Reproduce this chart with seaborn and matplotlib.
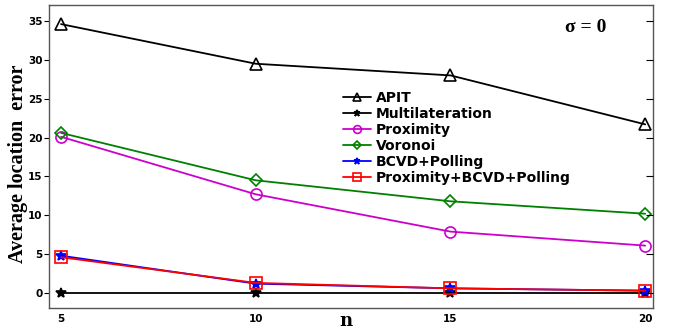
import matplotlib
matplotlib.use("Agg")
import matplotlib.pyplot as plt
import seaborn as sns
import pandas as pd

n_values = [5, 10, 15, 20]
apit = [34.6, 29.5, 28.0, 21.7]
multilateration = [0.0, 0.0, 0.0, 0.0]
proximity = [20.1, 12.7, 7.9, 6.1]
voronoi = [20.6, 14.5, 11.8, 10.2]
bcvd_polling = [4.8, 1.2, 0.6, 0.3]
prox_bcvd_polling = [4.6, 1.3, 0.6, 0.3]

series = [
    ("APIT", apit, "black", "^"),
    ("Multilateration", multilateration, "black", "*"),
    ("Proximity", proximity, "#CC00CC", "o"),
    ("Voronoi", voronoi, "#008000", "D"),
    ("BCVD+Polling", bcvd_polling, "blue", "*"),
    ("Proximity+BCVD+Polling", prox_bcvd_polling, "red", "s"),
]

sns.set_style("white", {"text.color": "black", "axes.labelcolor": "black",
                        "xtick.color": "black", "ytick.color": "black"})
fig = plt.figure(figsize=(6.76, 3.29), dpi=100)
ax = fig.add_axes([49/676, 1-308/329, (653-49)/676, (308-5)/329])

for name, vals, color, marker in series:
    df = pd.DataFrame({"n": n_values, "err": vals})
    ms = 8 if marker != "D" else 6
    if name in ("Multilateration", "BCVD+Polling"):
        ms = 7
    fc = color if name in ("Multilateration", "BCVD+Polling") else "none"
    sns.lineplot(data=df, x="n", y="err", ax=ax, color=color, marker=marker,
                 markersize=ms, markerfacecolor=fc, markeredgecolor=color,
                 markeredgewidth=1.2, linewidth=1.3, label=name)

ax.set_xlim(4.69, 20.2)
ax.set_ylim(-1.93, 37.06)
ax.set_xticks([5, 10, 15, 20])
ax.set_yticks([0, 5, 10, 15, 20, 25, 30, 35])
ax.tick_params(axis="both", labelsize=7.5, length=3.6, width=0.8, direction="out",
               pad=1, colors="black")
for lab in ax.get_xticklabels() + ax.get_yticklabels():
    lab.set_fontweight("bold")
for sp in ax.spines.values():
    sp.set_color("#555555")
    sp.set_linewidth(1.0)

# inward ticks on the right side
axr = ax.twinx()
axr.set_ylim(ax.get_ylim())
axr.set_yticks([0, 5, 10, 15, 20, 25, 30, 35])
axr.tick_params(axis="y", direction="in", length=5, width=0.8, labelright=False,
                colors="black")
axr.grid(False)
for sp in axr.spines.values():
    sp.set_visible(False)

ax.set_xlabel("n", fontsize=13, fontweight="bold", family="DejaVu Serif", color="black")
ax.xaxis.label.set_va("baseline")
ax.xaxis.set_label_coords((346-49)/604, (308-326)/303)
ax.set_ylabel("Average location  error", fontsize=14.5, fontweight="bold",
              family="Liberation Serif", color="black")
ax.yaxis.set_label_coords((28-49)/604, (308-164)/303)
ax.text(0.855, 0.925, "σ = 0", transform=ax.transAxes, fontsize=14,
        fontweight="bold", family="Liberation Serif", ha="left", va="center",
        color="black")

leg = ax.legend(loc="upper left", bbox_to_anchor=(0.475, 0.74), frameon=False,
                prop={"weight": "bold", "size": 10}, handlelength=2.0,
                handletextpad=0.4, labelspacing=0.15, borderpad=0, markerscale=0.7)
for t in leg.get_texts():
    t.set_color("black")

fig.savefig("out.png", dpi=100)
